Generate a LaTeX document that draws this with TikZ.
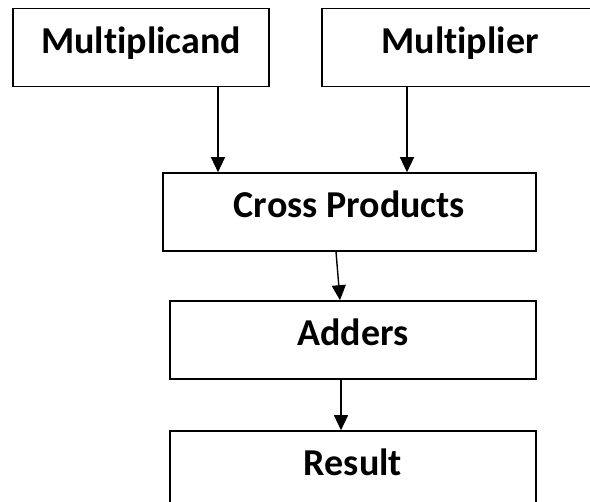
\documentclass[tikz,border=0pt]{standalone}
\usepackage{fontspec}
\setmainfont{Carlito}[Ligatures={NoCommon}]
\usetikzlibrary{arrows.meta}

\tikzset{
  box/.style={draw, line width=1.6pt, rectangle, minimum height=78pt,
    font=\fontsize{38}{42}\selectfont\bfseries, text height=21pt, text depth=9pt},
  arr/.style={line width=1.4pt, -{Triangle[width=14pt,length=15pt]}}
}

\begin{document}
\begin{tikzpicture}[x=1pt,y=-1pt]
			\useasboundingbox (0,0) rectangle (590,502);
			\clip (0,0) rectangle (590,502);
			\fill[white] (0,0) rectangle (590,502);
			\node[box, minimum width=256pt] (mcand) at (141,47.5) {Multiplicand};
			\node[box, minimum width=276pt] (mplier) at (460,47.5) {Multiplier};
			\node[box, minimum width=373pt] (cross) at (349.5,212) {Cross Products};
			\node[box, minimum width=366pt] (adders) at (353,340) {Adders};
			\node[box, minimum width=366pt] (result) at (353,470) {Result};
			\draw[arr] ([xshift=77pt]mcand.south) -- ([xshift=77pt]mcand.south |- cross.north);
			\draw[arr] ([xshift=-53pt]mplier.south) -- ([xshift=-53pt]mplier.south |- cross.north);
			\draw[arr] ([xshift=-13.5pt]cross.south) -- ([xshift=-13pt]adders.north);
			\draw[arr] ([xshift=-12pt]adders.south) -- ([xshift=-12pt]result.north);
		\end{tikzpicture}
\end{document}
